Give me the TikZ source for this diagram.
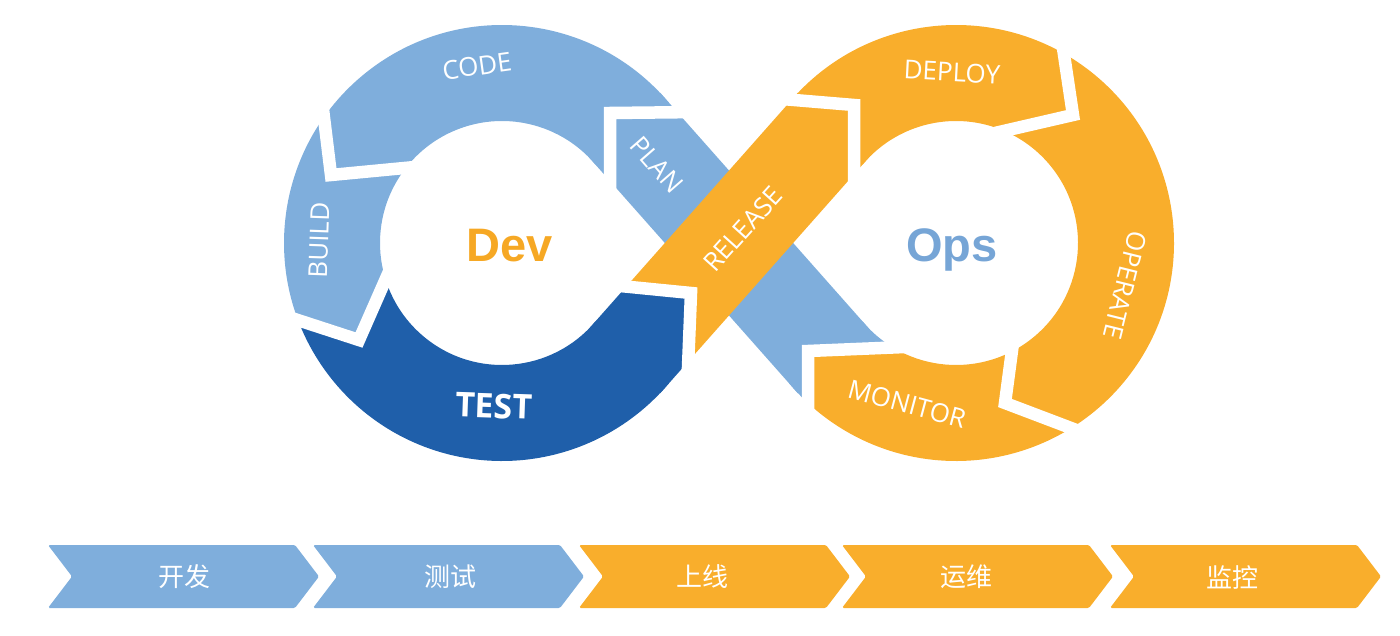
\documentclass[tikz,border=0pt]{standalone}
\usepackage{fontspec}
\setmainfont{Open Sans}
\newfontfamily\cjk{Noto Sans CJK SC}
\newfontfamily\headfont{Liberation Sans}
\usetikzlibrary{calc}
\definecolor{lb}{RGB}{127,174,220}
\definecolor{db}{RGB}{31,95,170}
\definecolor{og}{RGB}{249,174,44}
\definecolor{opsc}{RGB}{118,165,214}
\definecolor{devc}{RGB}{246,168,36}
\tikzset{
  gap/.style={draw=white, line width=12.5pt, line join=miter},
  seglabel/.style={text=white, font=\fontsize{26}{30}\selectfont, inner sep=0pt},
  stage/.style={text=white, font=\cjk\fontsize{26}{30}\selectfont, inner sep=0pt},
  chev/.style={rounded corners=1.5pt},
  bigword/.style={font=\headfont\bfseries\fontsize{47}{50}\selectfont, inner sep=0pt, anchor=base},
}
\begin{document}
\begin{tikzpicture}[x=1pt,y=1pt,yscale=-1]
\useasboundingbox (0,0) rectangle (1400,636);
\coordinate (C1) at (502,243);
\coordinate (C2) at (956,243);

% left ring arc: CODE, BUILD (light blue) and TEST (dark blue)
\begin{scope}
  \clip ($(C1)+(-40:218)$) arc[start angle=-40,end angle=-320,radius=218]
        -- ($(C1)+(-320:122)$) arc[start angle=-320,end angle=-40,radius=122] -- cycle;
  \fill[lb] (250,305) -- (359,340) -- (400,246) -- (720,246) -- (720,0) -- (250,0) -- cycle;
  \fill[db] (250,305) -- (359,340) -- (400,246) -- (720,246) -- (720,520) -- (250,520) -- cycle;
\end{scope}

% right ring arc: DEPLOY, OPERATE, MONITOR (orange), tail of PLAN
\begin{scope}
  \clip ($(C2)+(220:218)$) arc[start angle=220,end angle=500,radius=218]
        -- ($(C2)+(500:122)$) arc[start angle=500,end angle=220,radius=122] -- cycle;
  \fill[og] (905,210) -- (905,347) -- (808,351) -- (808,500) -- (1200,500) -- (1200,0) -- (700,0) -- (700,210) -- cycle;
  \fill[lb] (905,347) -- (808,351) -- (808,435) -- (700,435) -- (700,210) -- (905,210) -- cycle;
\end{scope}

% blue strip (PLAN)
\begin{scope}
  \clip (588.0,156.2) -- (660.0,92.6) -- (870.0,329.8) -- (798.0,393.4) -- cycle;
  \fill[lb] (550,50) -- (905,50) -- (905,347) -- (808,351) -- (808,450) -- (550,450) -- cycle;
  \fill[og] (905,347) -- (808,351) -- (808,450) -- (905,450) -- cycle;
\end{scope}

% orange strip (RELEASE), head of TEST
\begin{scope}
  \clip (588.0,329.8) -- (798.0,92.6) -- (870.0,156.2) -- (660.0,393.4) -- cycle;
  \fill[og] (550,279) -- (691,293) -- (688,450) -- (900,450) -- (900,50) -- (550,50) -- cycle;
  \fill[db] (550,279) -- (691,293) -- (688,450) -- (550,450) -- cycle;
\end{scope}

% white gaps between segments
\draw[gap] (700,112) -- (610,113) -- (610,195);   % PLAN / CODE
\draw[gap] (320,85) -- (331,175) -- (415,167);    % CODE / BUILD
\draw[gap] (270,311) -- (359,340) -- (395,258);   % BUILD / TEST
\draw[gap] (600,284) -- (691,293) -- (687,392);   % TEST / RELEASE
\draw[gap] (770,98) -- (854,105) -- (854,185);    % RELEASE / DEPLOY
\draw[gap] (1060,28) -- (1073,115) -- (995,133);  % DEPLOY / OPERATE
\draw[gap] (1015,328) -- (1005,403) -- (1092,436);% OPERATE / MONITOR
\draw[gap] (905,347) -- (808,351) -- (808,435);   % MONITOR / PLAN

% segment labels
\node[seglabel, rotate=8]    (code)    at (477,66)  {CODE};
\node[seglabel, rotate=88]   (build)   at (319,240) {BUILD};
\node[seglabel, rotate=-49]  (plan)    at (657,165) {PLAN};
\node[seglabel, rotate=48]   (release) at (743,229) {RELEASE};
\node[text=white, inner sep=0pt, font=\bfseries\fontsize{34}{38}\selectfont, rotate=-2] (test) at (494,406) {TEST};
\node[seglabel, rotate=-3]   (deploy)  at (952,72)  {DEPLOY};
\node[seglabel, rotate=-104] (operate) at (1125,285) {OPERATE};
\node[seglabel, rotate=-15]  (monitor) at (907,404) {MONITOR};

\node[bigword, text=devc] (dev) at (510,262) {Dev};
\node[bigword, text=opsc] (ops) at (952,262) {Ops};

% bottom stage chevrons
\foreach \L/\tx/\c/\cx [count=\k] in {48/开发/lb/184.5, 313/测试/lb/450, 579/上线/og/702, 842/运维/og/966, 1110/监控/og/1232}{
  \fill[\c, chev] (\L,545) -- ++(247,0) -- ++(24,31.5) -- ++(-24,31.5) -- ++(-247,0) -- ++(24,-31.5) -- cycle;
  \node[stage] (s\k) at (\cx,577) {\tx};
}
\end{tikzpicture}
\end{document}
